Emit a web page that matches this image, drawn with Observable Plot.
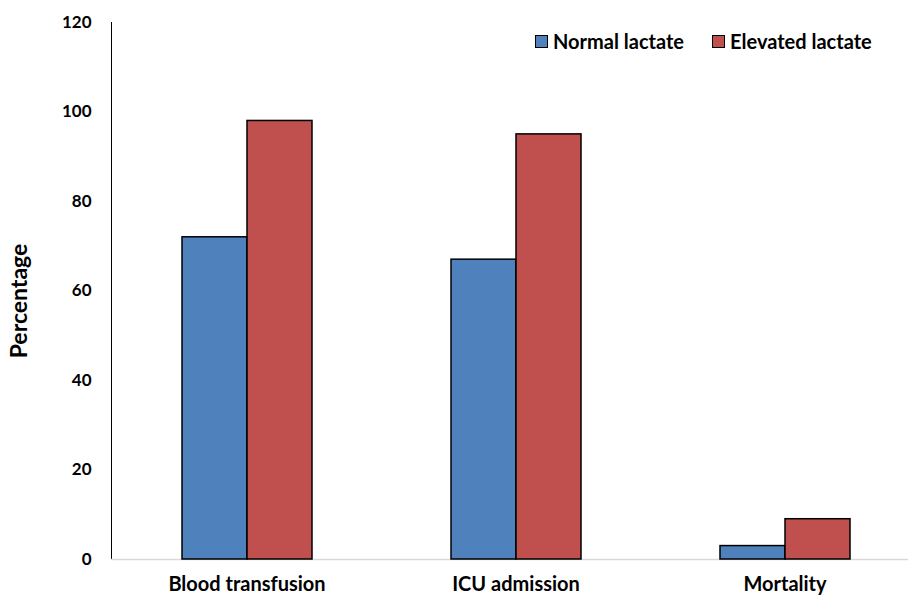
<!DOCTYPE html>
<html>
<head>
<meta charset="utf-8">
<script src="https://cdn.jsdelivr.net/npm/d3@7"></script>
<script src="https://cdn.jsdelivr.net/npm/@observablehq/plot@0.6"></script>
<style>
  html, body { margin: 0; padding: 0; background: #fff; }
  #wrap { position: relative; width: 908px; height: 596px; font-family: Lato, "Open Sans", sans-serif; }
  #legend { position: absolute; top: 29px; left: 535px; display: flex; align-items: center; font-weight: bold; font-size: 20px; color: #000; }
  .sw { width: 11px; height: 11px; border: 1.3px solid #000; display: inline-block; margin-right: 5px; }
  .item { display: flex; align-items: center; margin-right: 28px; }
  svg g[aria-label="x-axis tick label"] text { font-size: 20px; }
</style>
</head>
<body>
<div id="wrap"><div id="legend"></div></div>
<script>
const categories = ["Blood transfusion", "ICU admission", "Mortality"];
const seriesNames = ["Normal lactate", "Elevated lactate"];
const normalValues = [72, 67, 3];
const elevatedValues = [98, 95, 9];
const colors = ["#4F81BD", "#C0504D"];
const yTicks = [0, 20, 40, 60, 80, 100, 120];

const normalData = categories.map((c, i) => ({category: c, value: normalValues[i]}));
const elevatedData = categories.map((c, i) => ({category: c, value: elevatedValues[i]}));

const chart = Plot.plot({
  width: 908,
  height: 596,
  marginLeft: 111,
  marginRight: 0,
  marginTop: 22,
  marginBottom: 37,
  style: {fontFamily: "Lato, 'Open Sans', sans-serif", fontSize: "17px", fontWeight: "bold", color: "#000", background: "#fff"},
  x: {domain: categories, range: [111, 919], padding: 0, tickSize: 0, tickPadding: 17, label: null},
  y: {domain: [0, 120], ticks: yTicks, tickSize: 0, tickPadding: 20, label: null, line: true},
  marks: [
    Plot.ruleY([0], {stroke: "#d9d9d9", strokeWidth: 1.5}),
    Plot.barY(normalData, {x: "category", y: "value", fill: colors[0], stroke: "#000", strokeWidth: 1.5, insetLeft: 70, insetRight: 134}),
    Plot.barY(elevatedData, {x: "category", y: "value", fill: colors[1], stroke: "#000", strokeWidth: 1.5, insetLeft: 135, insetRight: 69}),
    Plot.text(["Percentage"], {frameAnchor: "left", textAnchor: "middle", lineAnchor: "middle", rotate: -90, dx: -92, dy: 10, fontSize: 23, fontWeight: "bold", fill: "#000"})
  ]
});
document.getElementById("wrap").prepend(chart);

const legend = document.getElementById("legend");
seriesNames.forEach((name, i) => {
  const item = document.createElement("div");
  item.className = "item";
  const sw = document.createElement("span");
  sw.className = "sw";
  sw.style.background = colors[i];
  item.appendChild(sw);
  item.appendChild(document.createTextNode(name));
  legend.appendChild(item);
});
</script>
</body>
</html>
